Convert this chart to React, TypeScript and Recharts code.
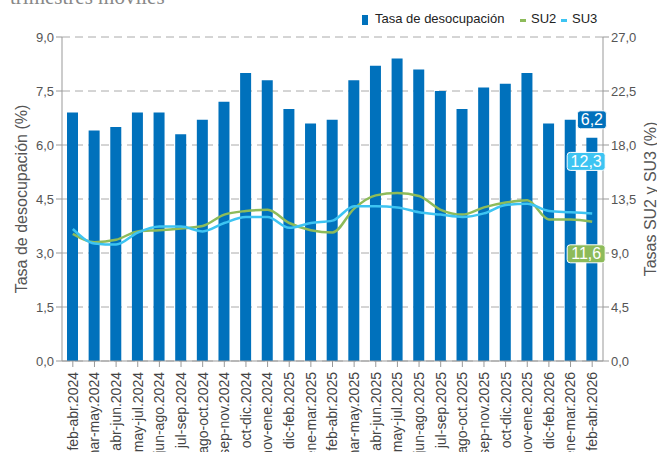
import React from "react";
import {
  ComposedChart,
  Bar,
  Line,
  XAxis,
  YAxis,
  CartesianGrid,
  LabelList,
} from "recharts";

const categories = [
  "feb-abr.2024", "mar-may.2024", "abr-jun.2024", "may-jul.2024", "jun-ago.2024",
  "jul-sep.2024", "ago-oct.2024", "sep-nov.2024", "oct-dic.2024", "nov-ene.2024",
  "dic-feb.2025", "ene-mar.2025", "feb-abr.2025", "mar-may.2025", "abr-jun.2025",
  "may-jul.2025", "jun-ago.2025", "jul-sep.2025", "ago-oct.2025", "sep-nov.2025",
  "oct-dic.2025", "nov-ene.2025", "dic-feb.2026", "ene-mar.2026", "feb-abr.2026",
];

const tasa = [6.9, 6.4, 6.5, 6.9, 6.9, 6.3, 6.7, 7.2, 8.0, 7.8, 7.0, 6.6, 6.7, 7.8, 8.2, 8.4, 8.1, 7.5, 7.0, 7.6, 7.7, 8.0, 6.6, 6.7, 6.2];
const su2 = [10.6, 9.9, 10.1, 10.8, 10.9, 11.05, 11.25, 12.2, 12.5, 12.6, 11.5, 10.9, 10.7, 12.7, 13.8, 14.0, 13.75, 12.6, 12.2, 12.8, 13.2, 13.4, 11.8, 11.8, 11.6];
const su3 = [11.0, 9.8, 9.7, 10.7, 11.2, 11.2, 10.8, 11.5, 12.0, 12.0, 11.1, 11.5, 11.7, 12.9, 12.9, 12.8, 12.4, 12.2, 12.0, 12.3, 13.0, 13.1, 12.5, 12.4, 12.3];

const leftTicks = [0, 1.5, 3, 4.5, 6, 7.5, 9];
const rightTicks = [0, 4.5, 9, 13.5, 18, 22.5, 27];

const BLUE = "#0071bc";
const GREEN = "#8dbb5a";
const LIGHT = "#3dc4f2";
const FONT = "Arial, 'Liberation Sans', sans-serif";

const data = categories.map((name, i) => ({
  name,
  tasa: tasa[i],
  su2: su2[i],
  su3: su3[i],
}));

const fmt = (v: number) => v.toFixed(1).replace(".", ",");

// boxed value label, drawn only on the last point
const boxLabel = (fill: string, dx: number, dy: number) => (props: any) => {
  const { x, y, width, value, index } = props;
  if (index !== data.length - 1) return null;
  const cx = (width ? x + width / 2 : x) + dx;
  const cy = y + dy;
  const text = fmt(Number(value));
  const w = text.length * 9 + 2;
  return (
    <g>
      <rect x={cx - w / 2} y={cy - 9} width={w} height={18} rx={3} fill={fill} stroke="#fff" strokeWidth={1} />
      <text x={cx} y={cy + 5.5} textAnchor="middle" fill="#fff" fontSize={16} fontFamily={FONT}>
        {text}
      </text>
    </g>
  );
};

const XTick = (props: any) => {
  const { x, y, payload } = props;
  return (
    <text
      x={x}
      y={y + 3}
      transform={`rotate(-90 ${x} ${y + 3})`}
      textAnchor="end"
      dy="0.35em"
      fill="#444"
      fontSize={14}
      fontFamily={FONT}
    >
      {payload.value}
    </text>
  );
};

const axisTitle = (text: string, xPos: (vb: any) => number) => (props: any) => {
  const vb = props.viewBox;
  const x = xPos(vb);
  const y = vb.y + vb.height / 2;
  return (
    <text
      x={x}
      y={y}
      transform={`rotate(-90 ${x} ${y})`}
      textAnchor="middle"
      dy="0.35em"
      fill="#555"
      fontSize={16}
      fontFamily={FONT}
    >
      {text}
    </text>
  );
};

export default function App() {
  return (
    <div
      style={{
        position: "absolute",
        left: 0,
        top: 0,
        width: 657,
        height: 452,
        overflow: "hidden",
        background: "#fff",
        fontFamily: FONT,
      }}
    >
      <div
        style={{
          position: "absolute",
          left: 10,
          top: -13,
          fontFamily: "'Liberation Serif', 'Times New Roman', serif",
          fontSize: 21,
          lineHeight: "21px",
          color: "#888",
          whiteSpace: "nowrap",
        }}
      >
        trimestres móviles
      </div>

      {/* legend */}
      <div style={{ position: "absolute", left: 362, top: 15, width: 6, height: 10, background: BLUE }} />
      <div style={{ position: "absolute", left: 375, top: 11, fontSize: 13, lineHeight: "16px", color: "#222" }}>
        Tasa de desocupación
      </div>
      <div style={{ position: "absolute", left: 520, top: 19, width: 6, height: 3, background: GREEN }} />
      <div style={{ position: "absolute", left: 531, top: 11, fontSize: 13, lineHeight: "16px", color: "#222" }}>
        SU2
      </div>
      <div style={{ position: "absolute", left: 561, top: 19, width: 6, height: 3, background: LIGHT }} />
      <div style={{ position: "absolute", left: 572, top: 11, fontSize: 13, lineHeight: "16px", color: "#222" }}>
        SU3
      </div>

      <div style={{ position: "absolute", left: 0, top: 0 }}>
        <ComposedChart
          width={657}
          height={470}
          data={data}
          margin={{ top: 37, right: 0, bottom: 0, left: 0 }}
        >
          <CartesianGrid yAxisId="left" vertical={false} stroke="#aaa" strokeDasharray="8 5" />
          <XAxis
            dataKey="name"
            interval={0}
            height={109}
            tick={<XTick />}
            tickLine={{ stroke: "#999" }}
            axisLine={{ stroke: "#999" }}
          />
          <YAxis
            yAxisId="left"
            width={62}
            domain={[0, 9]}
            ticks={leftTicks}
            tickFormatter={fmt}
            tick={{ fill: "#555", fontSize: 13, fontFamily: FONT }}
            tickLine={{ stroke: "#999" }}
            axisLine={{ stroke: "#999" }}
            label={{ content: axisTitle("Tasa de desocupación (%)", () => 21) } as any}
          />
          <YAxis
            yAxisId="right"
            orientation="right"
            width={54}
            domain={[0, 27]}
            ticks={rightTicks}
            tickFormatter={fmt}
            tick={{ fill: "#555", fontSize: 13, fontFamily: FONT }}
            tickLine={{ stroke: "#999" }}
            axisLine={{ stroke: "#999" }}
            label={{ content: axisTitle("Tasas SU2 y SU3 (%)", (vb) => vb.x + 47) } as any}
          />
          <Bar yAxisId="left" dataKey="tasa" fill={BLUE} barSize={11} isAnimationActive={false}>
            <LabelList dataKey="tasa" content={boxLabel(BLUE, 0, -18)} />
          </Bar>
          <Line
            yAxisId="right"
            type="monotone"
            dataKey="su2"
            stroke={GREEN}
            strokeWidth={2.5}
            dot={false}
            isAnimationActive={false}
          >
            <LabelList dataKey="su2" content={boxLabel(GREEN, -6, 32)} />
          </Line>
          <Line
            yAxisId="right"
            type="monotone"
            dataKey="su3"
            stroke={LIGHT}
            strokeWidth={2.5}
            dot={false}
            isAnimationActive={false}
          >
            <LabelList dataKey="su3" content={boxLabel(LIGHT, -6, -52)} />
          </Line>
        </ComposedChart>
      </div>
    </div>
  );
}
